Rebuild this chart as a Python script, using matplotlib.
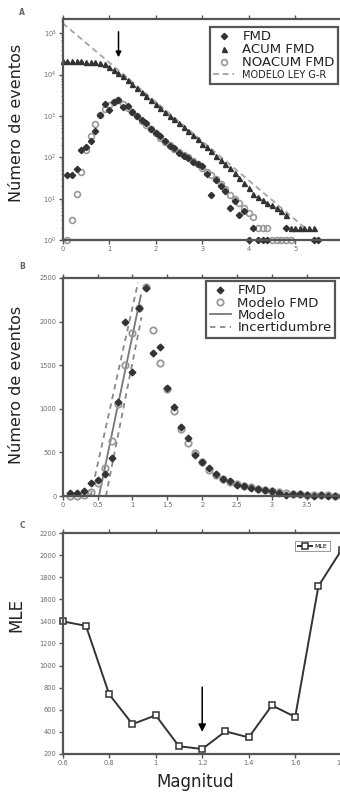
import numpy as np
import matplotlib
matplotlib.use("Agg")
import matplotlib.pyplot as plt
from matplotlib.ticker import LogLocator, NullFormatter, FixedLocator
from matplotlib.lines import Line2D

nan = np.nan

# magnitude bins (0.0 .. 5.5)
mags = np.round(np.arange(0, 5.55, 0.1), 1)

# panel A / B data
fmd = [nan, 37, 37, 52, 150, 180, 250, 440, 1080, 1990,
       1420, 2160, 2380, 1640, 1710, 1240, 1020, 790, 660, 470,
       390, 320, 250, 190, 170, 130, 110, 95, 75, 70,
       60, 40, 12, 28, 20, 15, 6, 9, 4, 5,
       1, 2, 1, 1, 1, nan, nan, nan, 2, nan,
       nan, nan, nan, nan, 1, 1]
acum = [21000, 21000, 21000, 20900, 20800, 20600, 20300, 20000, 19000, 17500,
        15500, 13000, 11000, 9000, 7200, 5800, 4700, 3800, 3000, 2450,
        1950, 1580, 1270, 1020, 830, 660, 530, 430, 340, 270,
        215, 175, 140, 110, 88, 70, 54, 42, 32, 24,
        18, 13, 11, 9.5, 8, 7, 6, 5, 4, 2,
        2, 2, 2, 2, 2, nan]
noacum = [nan, 1, 3, 13, 44, 150, 320, 630, 1050, 1500,
          1870, 2160, 2400, 1900, 1520, 1230, 980, 770, 610, 490,
          390, 300, 240, 195, 160, 135, 115, 100, 82, 68,
          56, 45, 37, 29, 23, 17, 12, 10, 8, 6,
          4.5, 3.5, 2, 2, 2, 1, 1, 1, 1, 1,
          nan, nan, nan, nan, nan, nan]

# G-R law (dashed) end points
gr_x = [0.0, 5.2]
gr_y = [174000, 2.0]

# panel B model fit lines
modelo_x = [0.52, 1.12]
modelo_y = [0, 2300]
inc_lo_x = [0.40, 1.08]
inc_lo_y = [0, 2450]
inc_hi_x = [0.62, 1.13]
inc_hi_y = [0, 2050]

# panel C
mle_mag = [0.6, 0.7, 0.8, 0.9, 1.0, 1.1, 1.2, 1.3, 1.4, 1.5, 1.6, 1.7, 1.8]
mle = [1400, 1360, 740, 470, 550, 270, 245, 405, 350, 640, 535, 1720, 2050]

dark = "#333333"
light = "#999999"
spine_c = "#555555"
tick_c = "#6a6a6a"

fig = plt.figure(figsize=(3.4, 7.92), dpi=100)
L, W = 0.1844, 0.8206
axA = fig.add_axes([L, 0.697, W, 0.279])
axB = fig.add_axes([L, 0.3737, W, 0.2753])
axC = fig.add_axes([L, 0.048, W, 0.279])


def style(ax):
    for s in ax.spines.values():
        s.set_color(spine_c)
        s.set_linewidth(1.6)
    ax.tick_params(which="both", direction="out", top=True, right=True,
                   color=spine_c, labelsize=4.8, labelcolor=tick_c, pad=1.5)
    ax.tick_params(which="major", length=3, width=1)
    ax.tick_params(which="minor", length=1.5, width=0.6)


###############################
#           PANEL A           #
###############################
axA.set_yscale("log")
axA.plot(gr_x, gr_y, ls=(0, (3, 2)), color="#aaaaaa", lw=1.4)
axA.plot(mags, acum, ls="none", marker="^", ms=3.6, color=dark, mec=dark,
         clip_on=False)
axA.plot(mags, noacum, ls="none", marker="o", ms=4.2, mfc="none", mec=light,
         mew=1.2, clip_on=False)
axA.plot(mags, fmd, ls="none", marker="D", ms=3.2, color=dark, mec=dark,
         clip_on=False)
axA.annotate("", xy=(1.2, 10 ** 4.35), xytext=(1.2, 10 ** 5.1),
             arrowprops=dict(arrowstyle="-|>", color="k", lw=1.1, mutation_scale=8))
axA.set_xlim(0, 6)
axA.set_ylim(1, 2.2e5)
axA.set_xticks([0, 1, 2, 3, 4, 5])
axA.yaxis.set_major_locator(FixedLocator([1, 10, 100, 1e3, 1e4, 1e5]))
axA.yaxis.set_minor_locator(LogLocator(base=10, subs=np.arange(2, 10) * 1.0))
axA.yaxis.set_minor_formatter(NullFormatter())
axA.set_yticklabels([r"$10^{%d}$" % i for i in range(6)])
style(axA)
axA.set_ylabel("Número de eventos", fontsize=11.5, color="#222222")
axA.yaxis.set_label_coords(-0.139, 0.53)

hA = [Line2D([], [], ls="none", marker="D", ms=3.2, color=dark),
      Line2D([], [], ls="none", marker="^", ms=3.6, color=dark),
      Line2D([], [], ls="none", marker="o", ms=4.2, mfc="none", mec=light, mew=1.2),
      Line2D([], [], ls=(0, (3, 2)), color="#aaaaaa", lw=1.4)]
legA = axA.legend(hA, ["FMD", "ACUM FMD", "NOACUM FMD", "MODELO LEY G-R"],
                  loc="upper right", bbox_to_anchor=(0.987, 0.964), borderaxespad=0,
                  fontsize=9.5, labelspacing=0.0, handlelength=1.6, handletextpad=0.6,
                  borderpad=0.25, fancybox=False, framealpha=1)
legA.get_frame().set_edgecolor(spine_c)
legA.get_frame().set_linewidth(1.6)
legA.get_texts()[3].set_fontsize(7)
for t in legA.get_texts():
    t.set_color("#222222")

###############################
#           PANEL B           #
###############################
axB.plot(inc_lo_x, inc_lo_y, ls=(0, (3, 2.5)), color="#888888", lw=1.3)
axB.plot(inc_hi_x, inc_hi_y, ls=(0, (3, 2.5)), color="#888888", lw=1.3)
axB.plot(modelo_x, modelo_y, ls="-", color="#777777", lw=1.3)
axB.plot(mags, noacum, ls="none", marker="o", ms=4.6, mfc="none", mec=light,
         mew=1.3, clip_on=False)
axB.plot(mags, fmd, ls="none", marker="D", ms=3.4, color=dark, clip_on=False)
axB.set_xlim(0, 4)
axB.set_ylim(0, 2500)
axB.set_xticks([0, 0.5, 1, 1.5, 2, 2.5, 3, 3.5])
axB.set_xticklabels(["0", "0.5", "1", "1.5", "2", "2.5", "3", "3.5"])
axB.set_yticks([0, 500, 1000, 1500, 2000, 2500])
style(axB)
axB.set_ylabel("Número de eventos", fontsize=11.5, color="#222222")
axB.yaxis.set_label_coords(-0.139, 0.51)

hB = [Line2D([], [], ls="none", marker="D", ms=3.4, color=dark),
      Line2D([], [], ls="none", marker="o", ms=4.6, mfc="none", mec=light, mew=1.3),
      Line2D([], [], ls="-", color="#777777", lw=1.3),
      Line2D([], [], ls=(0, (3, 2.5)), color="#888888", lw=1.3)]
legB = axB.legend(hB, ["FMD", "Modelo FMD", "Modelo", "Incertidumbre"],
                  loc="upper right", bbox_to_anchor=(0.976, 0.986), borderaxespad=0,
                  fontsize=9.5, labelspacing=-0.05, handlelength=1.6, handletextpad=0.5,
                  borderpad=0.25, fancybox=False, framealpha=1)
legB.get_frame().set_edgecolor(spine_c)
legB.get_frame().set_linewidth(1.6)
for t in legB.get_texts():
    t.set_color("#222222")

###############################
#           PANEL C           #
###############################
axC.plot(mle_mag, mle, "-", color=dark, lw=1.4, marker="s", ms=4, mfc="white",
         mec=dark, mew=1.1, clip_on=False, label="MLE")
axC.annotate("", xy=(1.2, 375), xytext=(1.2, 830),
             arrowprops=dict(arrowstyle="-|>", color="k", lw=1.1, mutation_scale=11))
axC.set_xlim(0.6, 1.8)
axC.set_ylim(200, 2200)
axC.set_xticks([0.6, 0.8, 1.0, 1.2, 1.4, 1.6, 1.8])
axC.set_xticklabels(["0.6", "0.8", "1", "1.2", "1.4", "1.6", "1.8"])
axC.set_yticks(range(200, 2201, 200))
style(axC)
axC.set_ylabel("MLE", fontsize=12, color="#222222")
axC.yaxis.set_label_coords(-0.135, 0.63)
axC.set_xlabel("Magnitud", fontsize=12, color="#222222")
axC.xaxis.set_label_coords(0.475, -0.085)
legC = axC.legend(loc="upper right", bbox_to_anchor=(0.958, 0.964), borderaxespad=0,
                  fontsize=4.5, handlelength=2.2, handletextpad=0.5, borderpad=0.4,
                  fancybox=False, framealpha=1)
legC.get_frame().set_edgecolor("#888888")
legC.get_frame().set_linewidth(0.6)

# panel letters
for lab, y in [("A", 0.984), ("B", 0.663), ("C", 0.337)]:
    fig.text(0.065, y, lab, fontsize=5.5, fontweight="bold", color="#666666",
             ha="center", va="center")

fig.savefig("out.png", dpi=100)
